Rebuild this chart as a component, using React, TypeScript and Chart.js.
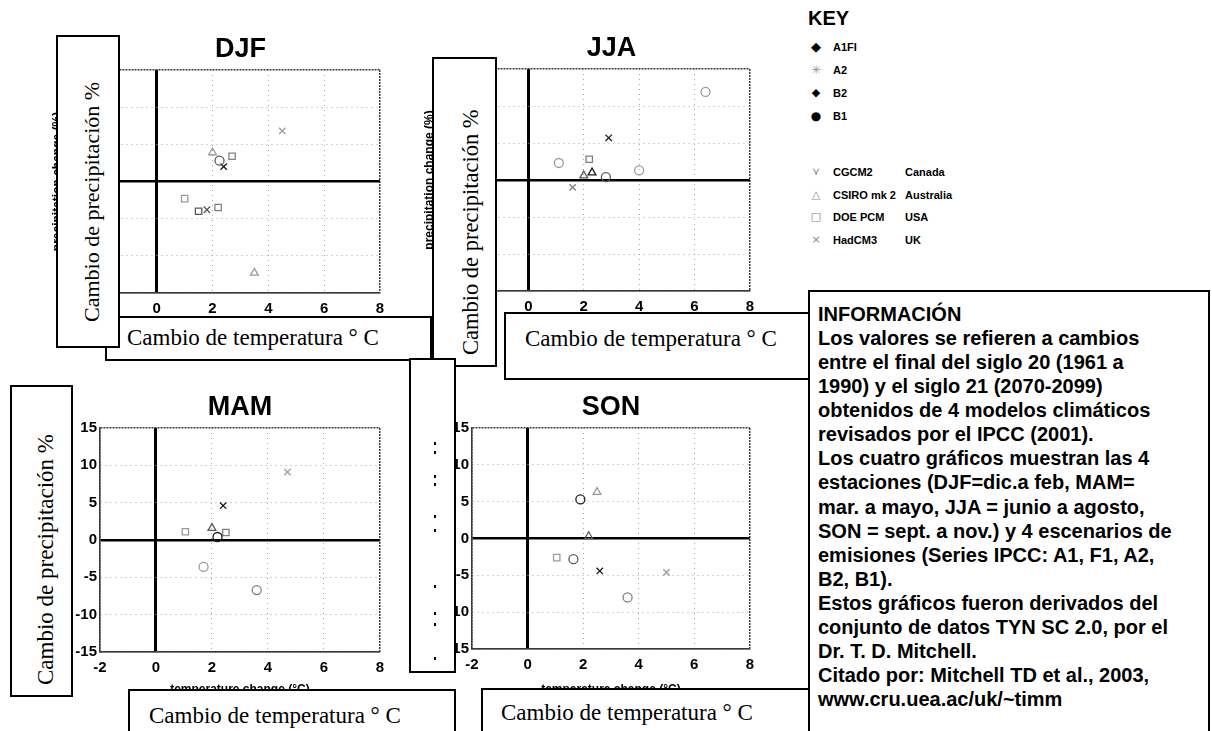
import React, { useEffect, useRef } from 'react';
import { Chart, registerables } from 'chart.js';

Chart.register(...registerables);

// ---------- axis definitions ----------
const tempMin = -2;
const tempMax = 8;
const tempStep = 2;
const precipMin = -15;
const precipMax = 15;
const precipStep = 5;

// ---------- key ----------
const scenarios = ['A1FI', 'A2', 'B2', 'B1'];
const models = ['CGCM2', 'CSIRO mk 2', 'DOE PCM', 'HadCM3'];
const countries = ['Canada', 'Australia', 'USA', 'UK'];

// ---------- DJF ----------
const djfTemp = [2.4, 2.0, 2.25, 2.7, 4.5, 1.0, 1.5, 2.2, 1.8, 3.5];
const djfPrecip = [2.0, 3.9, 2.8, 3.4, 6.8, -2.3, -4.0, -3.5, -3.8, -12.3];
const djfModel = ['HadCM3', 'CSIRO mk 2', 'CGCM2', 'DOE PCM', 'HadCM3', 'DOE PCM', 'DOE PCM', 'DOE PCM', 'HadCM3', 'CSIRO mk 2'];
const djfScenario = ['A1FI', 'A2', 'B2', 'B1', 'A2', 'A2', 'B2', 'B1', 'B2', 'A2'];

// ---------- JJA ----------
const jjaTemp = [6.4, 2.9, 1.1, 2.3, 2.8, 2.2, 4.0, 1.6, 2.0];
const jjaPrecip = [11.9, 5.7, 2.3, 1.0, 0.4, 2.8, 1.3, -1.0, 0.6];
const jjaModel = ['CGCM2', 'HadCM3', 'CGCM2', 'CSIRO mk 2', 'CGCM2', 'DOE PCM', 'CGCM2', 'HadCM3', 'CSIRO mk 2'];
const jjaScenario = ['A2', 'A1FI', 'A2', 'A1FI', 'B2', 'B1', 'A2', 'B1', 'B2'];

// ---------- MAM ----------
const mamTemp = [4.7, 2.4, 1.05, 2.0, 2.5, 2.2, 1.7, 3.6];
const mamPrecip = [9.1, 4.6, 1.1, 1.6, 1.0, 0.4, -3.6, -6.7];
const mamModel = ['HadCM3', 'HadCM3', 'DOE PCM', 'CSIRO mk 2', 'DOE PCM', 'CGCM2', 'CGCM2', 'CGCM2'];
const mamScenario = ['A2', 'A1FI', 'A2', 'B2', 'B1', 'A1FI', 'A2', 'B1'];

// ---------- SON ----------
const sonTemp = [2.5, 1.9, 1.05, 1.65, 2.6, 5.0, 3.6, 2.2];
const sonPrecip = [6.3, 5.3, -2.6, -2.8, -4.4, -4.6, -8.0, 0.3];
const sonModel = ['CSIRO mk 2', 'CGCM2', 'DOE PCM', 'CGCM2', 'HadCM3', 'HadCM3', 'CGCM2', 'CSIRO mk 2'];
const sonScenario = ['A2', 'A1FI', 'A2', 'B2', 'A1FI', 'A2', 'B1', 'B2'];

// ---------- texts ----------
const yLabelText = 'Cambio de precipitación %';
const xLabelText = 'Cambio de temperatura ° C';
const infoLines = [
  'INFORMACIÓN',
  'Los valores se refieren a cambios',
  'entre el final del siglo 20 (1961 a',
  '1990) y el siglo 21 (2070-2099)',
  'obtenidos de 4 modelos climáticos',
  'revisados por el IPCC (2001).',
  'Los cuatro gráficos muestran las 4',
  'estaciones (DJF=dic.a feb, MAM=',
  'mar. a mayo, JJA = junio a agosto,',
  'SON = sept. a nov.) y 4 escenarios de',
  'emisiones (Series IPCC: A1, F1, A2,',
  'B2, B1).',
  'Estos gráficos fueron derivados del',
  'conjunto de datos TYN SC 2.0, por el',
  'Dr. T. D. Mitchell.',
  'Citado por: Mitchell TD et al., 2003,',
  'www.cru.uea.ac/uk/~timm',
];

const SANS = '"Liberation Sans", Arial, Helvetica, sans-serif';
const SERIF = '"Liberation Serif", "Times New Roman", serif';
const SYM = '"DejaVu Sans", sans-serif';

const modelStyle: Record<string, string> = {
  CGCM2: 'circle',
  'CSIRO mk 2': 'triangle',
  'DOE PCM': 'rect',
  HadCM3: 'crossRot',
};
const scenarioColor: Record<string, string> = {
  A1FI: '#1a1a1a',
  A2: '#9a9a9a',
  B2: '#5a5a5a',
  B1: '#808080',
};

const Y_AXIS_W = 55;
const TITLE_H = 37;

type PanelProps = {
  season: string;
  temp: number[];
  precip: number[];
  model: string[];
  scen: string[];
  L: number;
  T: number;
  R: number;
  B: number;
  H: number;
};

function Panel(p: PanelProps) {
  const ref = useRef<HTMLCanvasElement>(null);
  const w = p.R - p.L + Y_AXIS_W + 8;
  const h = p.B - p.T + TITLE_H + p.H;
  useEffect(() => {
    if (!ref.current) return;
    const datasets = models.map((m) => {
      const idx = p.model.map((v, i) => (v === m ? i : -1)).filter((i) => i >= 0);
      return {
        label: m,
        data: idx.map((i) => ({ x: p.temp[i], y: p.precip[i] })),
        pointStyle: modelStyle[m] as any,
        pointRadius: 4.5,
        pointBorderWidth: 1.3,
        pointBorderColor: idx.map((i) => scenarioColor[p.scen[i]]),
        pointBackgroundColor: 'rgba(0,0,0,0)',
      };
    });
    const gridColor = (min: number, max: number) => (c: any) => {
      const v = c.tick ? c.tick.value : null;
      if (v === 0) return '#000';
      if (v === min || v === max) return '#3a3a3a';
      return '#a8a8a8';
    };
    const gridWidth = (min: number, max: number, zw: number) => (c: any) => {
      const v = c.tick ? c.tick.value : null;
      if (v === 0) return zw;
      if (v === min || v === max) return 1.5;
      return 1;
    };
    const gridDash = (min: number, max: number) => (c: any) => {
      const v = c.tick ? c.tick.value : null;
      if (v === 0) return [];
      if (v === null || v === min || v === max) return [2, 1];
      return [1, 4];
    };
    const tickFont = { family: SANS, size: 15, weight: 'bold' as const };
    const titleFont = { family: SANS, size: 12, weight: 'bold' as const };
    const H = p.H;
    const chart = new Chart(ref.current, {
      type: 'scatter',
      data: { datasets },
      options: {
        responsive: false,
        animation: false,
        devicePixelRatio: 1,
        layout: { padding: { left: 0, right: 8, top: 0, bottom: 0 } },
        plugins: {
          legend: { display: false },
          tooltip: { enabled: false },
          title: {
            display: true,
            text: p.season,
            color: '#000',
            font: { family: SANS, size: 27, weight: 'bold' },
            padding: { top: 0, bottom: 4.6 },
            fullSize: false,
          },
        },
        scales: {
          x: {
            type: 'linear',
            min: tempMin,
            max: tempMax,
            ticks: { stepSize: tempStep, color: '#000', font: tickFont, padding: 7, maxRotation: 0 },
            grid: { color: gridColor(tempMin, tempMax), lineWidth: gridWidth(tempMin, tempMax, 3), drawTicks: false },
            border: { display: true, color: '#3a3a3a', width: 1.5, dash: gridDash(tempMin, tempMax) },
            title: { display: true, text: 'temperature change (°C)', color: '#000', font: titleFont },
            afterFit: (s: any) => {
              s.height = H;
            },
          },
          y: {
            type: 'linear',
            min: precipMin,
            max: precipMax,
            ticks: { stepSize: precipStep, color: '#000', font: tickFont, padding: 3 },
            grid: { color: gridColor(precipMin, precipMax), lineWidth: gridWidth(precipMin, precipMax, 2.5), drawTicks: false },
            border: { display: true, color: '#3a3a3a', width: 1.5, dash: gridDash(precipMin, precipMax) },
            title: { display: true, text: 'precipitation change (%)', color: '#000', font: titleFont },
            afterFit: (s: any) => {
              s.width = Y_AXIS_W;
            },
          },
        },
      } as any,
    });
    return () => chart.destroy();
  }, []);
  return (
    <canvas
      ref={ref}
      width={w}
      height={h}
      style={{ position: 'absolute', left: p.L - Y_AXIS_W, top: p.T - TITLE_H, width: w, height: h }}
    />
  );
}

type BoxProps = { l: number; t: number; r: number; b: number; children?: React.ReactNode };
function Box({ l, t, r, b, children }: BoxProps) {
  return (
    <div
      style={{
        position: 'absolute',
        left: l,
        top: t,
        width: r - l,
        height: b - t,
        border: '2px solid #000',
        background: '#fff',
        boxSizing: 'border-box',
        overflow: 'hidden',
      }}
    >
      {children}
    </div>
  );
}

function RotText({ text, cx, bottom, size }: { text: string; cx: number; bottom: number; size: number }) {
  const lh = Math.round(size * 1.2);
  return (
    <div
      style={{
        position: 'absolute',
        left: cx - lh / 2,
        top: bottom,
        height: lh,
        lineHeight: lh + 'px',
        whiteSpace: 'nowrap',
        transform: 'rotate(-90deg)',
        transformOrigin: '0 0',
        fontFamily: SERIF,
        fontSize: size,
        color: '#000',
      }}
    >
      {text}
    </div>
  );
}

function HText({ text, left, cy, size }: { text: string; left: number; cy: number; size: number }) {
  const lh = Math.round(size * 1.2);
  return (
    <div
      style={{
        position: 'absolute',
        left,
        top: cy - lh / 2,
        height: lh,
        lineHeight: lh + 'px',
        whiteSpace: 'nowrap',
        fontFamily: SERIF,
        fontSize: size,
        color: '#000',
      }}
    >
      {text}
    </div>
  );
}

const scenarioGlyph = ['◆', '✳', '◆', '●'];
const scenarioGlyphColor = ['#000', '#999', '#000', '#000'];
const scenarioGlyphSize = [13, 12, 11, 12];
const modelGlyph = ['⋎', '△', '□', '×'];

function Key() {
  const scenY = [47, 70, 93, 116];
  const modelY = [172, 195, 217, 240];
  const rowStyle = (cy: number): React.CSSProperties => ({
    position: 'absolute',
    top: cy - 8,
    height: 16,
    lineHeight: '16px',
    fontFamily: SANS,
    fontWeight: 'bold',
    fontSize: 11,
    color: '#000',
    whiteSpace: 'nowrap',
  });
  return (
    <>
      <div
        style={{
          position: 'absolute',
          left: 808,
          top: 6,
          fontFamily: SANS,
          fontWeight: 'bold',
          fontSize: 20,
          lineHeight: '24px',
          color: '#000',
        }}
      >
        KEY
      </div>
      {scenarios.map((s, i) => (
        <React.Fragment key={s}>
          <div
            style={{
              ...rowStyle(scenY[i]),
              left: 809,
              width: 14,
              textAlign: 'center',
              fontFamily: SYM,
              fontSize: scenarioGlyphSize[i],
              color: scenarioGlyphColor[i],
            }}
          >
            {scenarioGlyph[i]}
          </div>
          <div style={{ ...rowStyle(scenY[i]), left: 833 }}>{s}</div>
        </React.Fragment>
      ))}
      {models.map((m, i) => (
        <React.Fragment key={m}>
          <div
            style={{
              ...rowStyle(modelY[i]),
              left: 809,
              width: 14,
              textAlign: 'center',
              fontFamily: SYM,
              fontSize: 11,
              fontWeight: 'normal',
              color: '#888',
            }}
          >
            {modelGlyph[i]}
          </div>
          <div style={{ ...rowStyle(modelY[i]), left: 833 }}>{m}</div>
          <div style={{ ...rowStyle(modelY[i]), left: 905 }}>{countries[i]}</div>
        </React.Fragment>
      ))}
    </>
  );
}

const middleDots = [82, 91, 115, 123, 155, 169, 225, 252, 263, 297];

export default function App() {
  return (
    <div
      style={{
        position: 'absolute',
        left: 0,
        top: 0,
        width: 1212,
        height: 731,
        overflow: 'hidden',
        background: '#fff',
      }}
    >
      <Panel season="DJF" temp={djfTemp} precip={djfPrecip} model={djfModel} scen={djfScenario} L={101} T={70} R={383} B={293} H={47} />
      <Panel season="JJA" temp={jjaTemp} precip={jjaPrecip} model={jjaModel} scen={jjaScenario} L={473} T={69} R={753} B={291} H={47} />
      <Panel season="MAM" temp={mamTemp} precip={mamPrecip} model={mamModel} scen={mamScenario} L={100} T={428} R={383} B={652} H={49} />
      <Panel season="SON" temp={sonTemp} precip={sonPrecip} model={sonModel} scen={sonScenario} L={472} T={428} R={753} B={649} H={52} />

      <Key />

      {/* DJF x label */}
      <Box l={105} t={316} r={432} b={361}>
        <HText text={xLabelText} left={20} cy={20} size={23} />
      </Box>
      {/* DJF y label */}
      <Box l={56} t={35} r={120} b={348}>
        <RotText text={yLabelText} cx={34} bottom={285} size={22} />
      </Box>
      {/* JJA x label */}
      <Box l={504} t={312} r={810} b={380}>
        <HText text={xLabelText} left={19} cy={25} size={23} />
      </Box>
      {/* JJA y label */}
      <Box l={432} t={57} r={497} b={367}>
        <RotText text={yLabelText} cx={36} bottom={296} size={22.5} />
      </Box>
      {/* middle box */}
      <Box l={409} t={358} r={456} b={673}>
        {middleDots.map((d, i) => (
          <div
            key={i}
            style={{ position: 'absolute', left: 23, top: d, width: 2, height: 3, background: '#000' }}
          />
        ))}
      </Box>
      {/* info box */}
      <Box l={808} t={290} r={1210} b={760}>
        <div
          style={{
            position: 'absolute',
            left: 8,
            top: 10,
            fontFamily: SANS,
            fontWeight: 'bold',
            fontSize: 20,
            lineHeight: '24.06px',
            color: '#000',
            whiteSpace: 'nowrap',
          }}
        >
          {infoLines.map((t, i) => (
            <div key={i}>{t}</div>
          ))}
        </div>
      </Box>
      {/* MAM x label */}
      <Box l={128} t={689} r={456} b={760}>
        <HText text={xLabelText} left={19} cy={25} size={23} />
      </Box>
      {/* SON x label */}
      <Box l={481} t={688} r={810} b={760}>
        <HText text={xLabelText} left={18} cy={23} size={23} />
      </Box>
      {/* MAM y label */}
      <Box l={10} t={385} r={73} b={697}>
        <RotText text={yLabelText} cx={34} bottom={298} size={23} />
      </Box>
    </div>
  );
}
